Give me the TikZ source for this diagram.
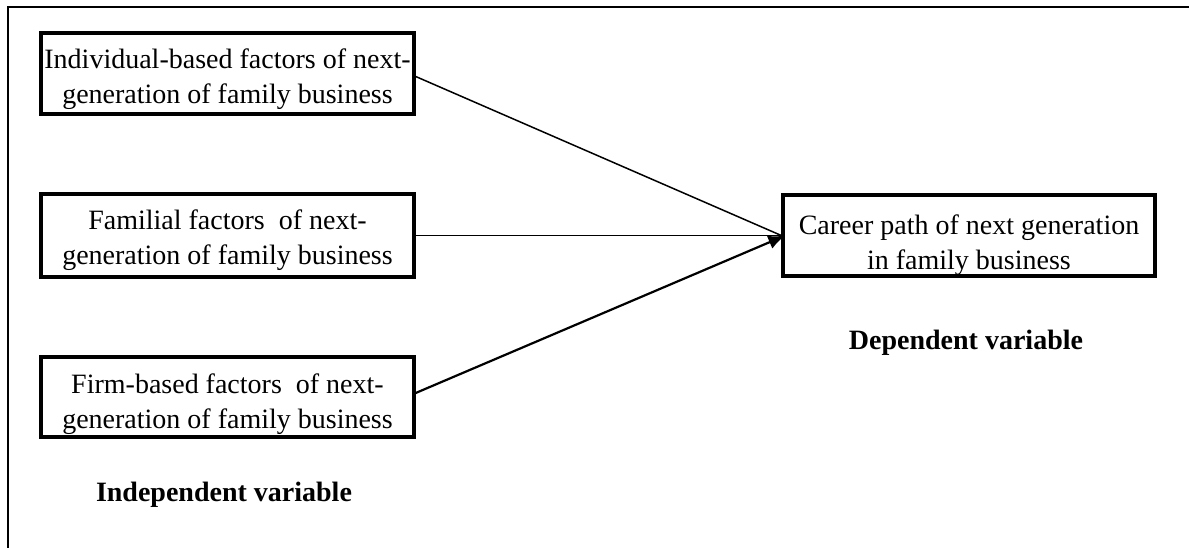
\documentclass[tikz,border=0pt]{standalone}
\usepackage{fontspec}
\setmainfont{Liberation Serif}
\usetikzlibrary{arrows.meta}
\newcommand\boxlines[3]{\raisebox{#1}[0pt][0pt]{\begin{tabular}[b]{@{}c@{}}#2\\#3\end{tabular}}}
\begin{document}
\begin{tikzpicture}[x=1pt,y=-1pt,
  factorbox/.style={draw, line width=3.4pt, minimum width=373pt, inner sep=0pt,
    font=\fontsize{28}{35}\selectfont},
  varlabel/.style={font=\fontsize{28}{34}\selectfont\bfseries, inner sep=0pt, anchor=base},
  link/.style={line width=1.5pt},
  mainlink/.style={line width=2.2pt, -{Latex[length=17pt,width=14pt]}},
  frame/.style={line width=2pt}]
\useasboundingbox (0,0) rectangle (1189,548);
\fill[white] (0,0) rectangle (1189,548);
\draw[frame] (8,548) -- (8,7) -- (1189,7);

\node[factorbox, minimum height=81pt] (b1) at (227.5,73.5)
  {\boxlines{-30.5pt}{Individual-based factors of next-}{generation of family business}};
\node[factorbox, minimum height=83pt] (b2) at (227.5,235.5)
  {\boxlines{-29.5pt}{Familial factors\ \ of next-}{generation of family business}};
\node[factorbox, minimum height=80pt] (b3) at (227.5,397)
  {\boxlines{-31pt}{Firm-based factors\ \ of next-}{generation of family business}};
\node[factorbox, minimum width=372pt, minimum height=81pt] (tg) at (969,235.5)
  {\boxlines{-34pt}{Career path of next generation}{in family business}};

\node[varlabel] (iv) at (224,501) {Independent variable};
\node[varlabel] (dv) at (966,349) {Dependent variable};

\draw[link] ([yshift=-3pt]b1.east) -- (tg.west);
\draw[link] (b2.east) -- (tg.west);
\draw[mainlink] ([yshift=4pt]b3.east) -- ([xshift=4pt]tg.west);
\end{tikzpicture}
\end{document}
